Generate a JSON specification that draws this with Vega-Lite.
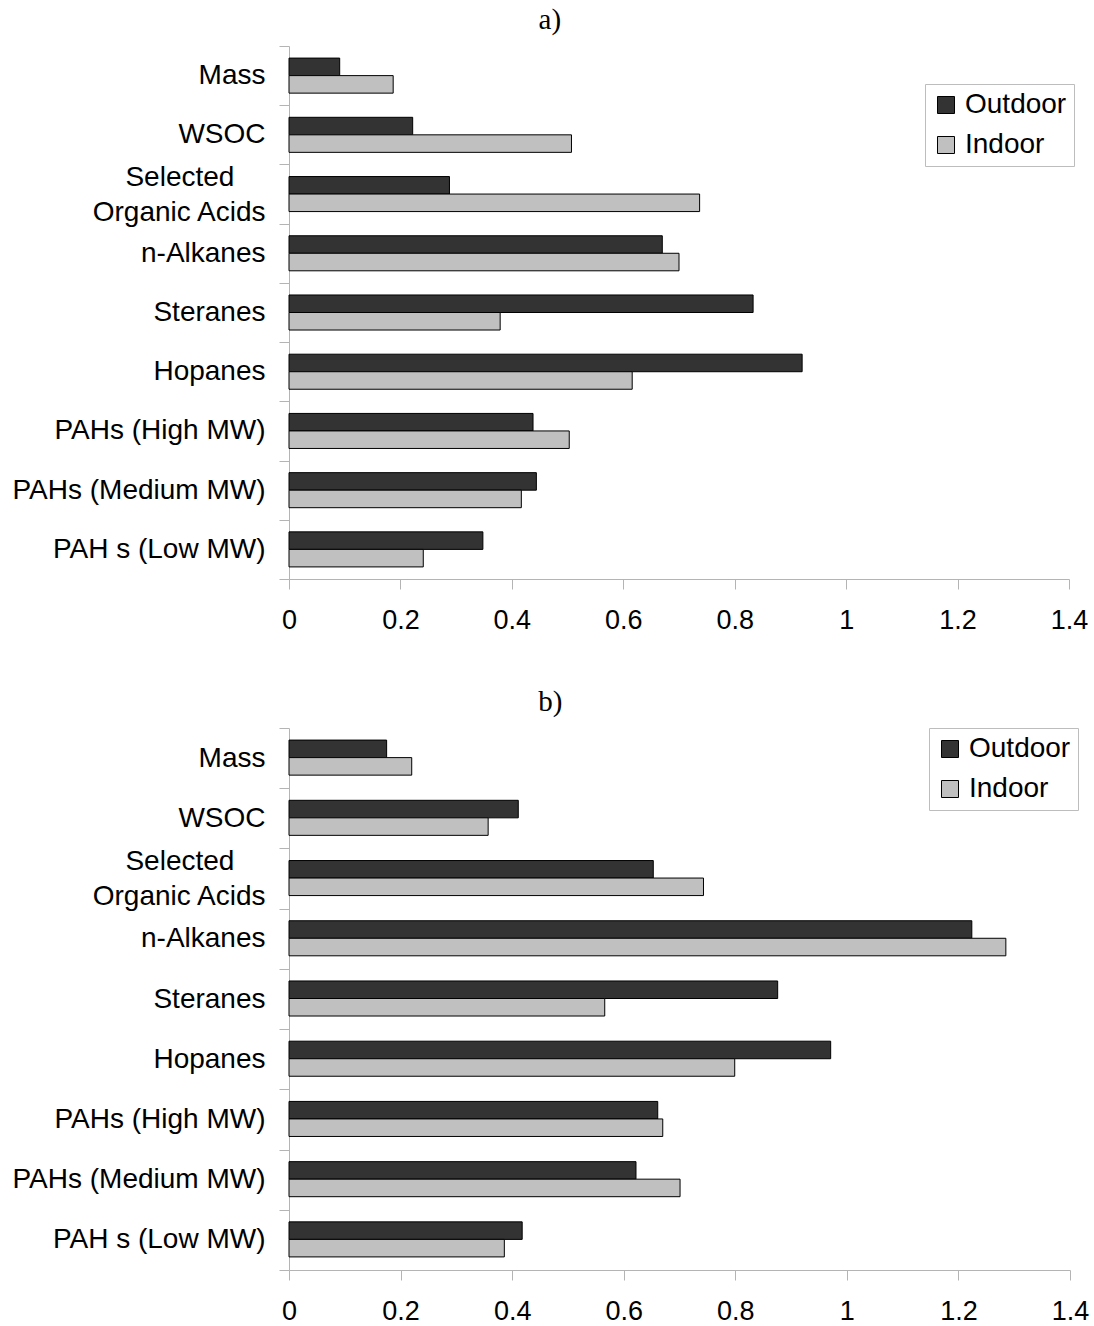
{
  "$schema": "https://vega.github.io/schema/vega-lite/v6.json",
  "background": "white",
  "padding": {"left": 11, "top": 6, "right": 5, "bottom": 5},
  "spacing": 55,
  "config": {
    "view": {"stroke": null},
    "font": "Liberation Sans",
    "axis": {
      "domainColor": "#b4b4b4",
      "tickColor": "#b4b4b4",
      "labelColor": "black",
      "labelFont": "Liberation Sans",
      "labelFontSize": 27,
      "labelLimit": 0,
      "grid": false,
      "tickSize": 10,
      "title": null
    },
    "title": {
      "font": "Liberation Serif",
      "fontSize": 29,
      "fontWeight": "normal",
      "color": "black",
      "anchor": "middle",
      "frame": "bounds",
      "dx": 0,
      "offset": -3
    },
    "legend": {
      "title": null,
      "orient": "none",
      "symbolType": "square",
      "symbolSize": 289,
      "symbolStrokeColor": "black",
      "symbolStrokeWidth": 1,
      "symbolOpacity": 1,
      "labelFont": "Liberation Sans",
      "labelFontSize": 28,
      "labelColor": "black",
      "labelOffset": 5,
      "labelLimit": 0,
      "rowPadding": 12,
      "padding": 7,
      "strokeColor": "#bdbdbd",
      "fillColor": "white"
    }
  },
  "datasets": {
    "panel_a": [
      {"component": "Mass", "site": "Outdoor", "ratio": 0.091},
      {"component": "Mass", "site": "Indoor", "ratio": 0.187},
      {"component": "WSOC", "site": "Outdoor", "ratio": 0.222},
      {"component": "WSOC", "site": "Indoor", "ratio": 0.507},
      {"component": "Selected Organic Acids", "site": "Outdoor", "ratio": 0.288},
      {"component": "Selected Organic Acids", "site": "Indoor", "ratio": 0.737},
      {"component": "n-Alkanes", "site": "Outdoor", "ratio": 0.670},
      {"component": "n-Alkanes", "site": "Indoor", "ratio": 0.700},
      {"component": "Steranes", "site": "Outdoor", "ratio": 0.833},
      {"component": "Steranes", "site": "Indoor", "ratio": 0.379},
      {"component": "Hopanes", "site": "Outdoor", "ratio": 0.921},
      {"component": "Hopanes", "site": "Indoor", "ratio": 0.616},
      {"component": "PAHs (High MW)", "site": "Outdoor", "ratio": 0.438},
      {"component": "PAHs (High MW)", "site": "Indoor", "ratio": 0.503},
      {"component": "PAHs (Medium MW)", "site": "Outdoor", "ratio": 0.444},
      {"component": "PAHs (Medium MW)", "site": "Indoor", "ratio": 0.417},
      {"component": "PAH s (Low MW)", "site": "Outdoor", "ratio": 0.348},
      {"component": "PAH s (Low MW)", "site": "Indoor", "ratio": 0.241}
    ],
    "panel_b": [
      {"component": "Mass", "site": "Outdoor", "ratio": 0.175},
      {"component": "Mass", "site": "Indoor", "ratio": 0.220},
      {"component": "WSOC", "site": "Outdoor", "ratio": 0.411},
      {"component": "WSOC", "site": "Indoor", "ratio": 0.357},
      {"component": "Selected Organic Acids", "site": "Outdoor", "ratio": 0.653},
      {"component": "Selected Organic Acids", "site": "Indoor", "ratio": 0.743},
      {"component": "n-Alkanes", "site": "Outdoor", "ratio": 1.224},
      {"component": "n-Alkanes", "site": "Indoor", "ratio": 1.285},
      {"component": "Steranes", "site": "Outdoor", "ratio": 0.876},
      {"component": "Steranes", "site": "Indoor", "ratio": 0.566},
      {"component": "Hopanes", "site": "Outdoor", "ratio": 0.971},
      {"component": "Hopanes", "site": "Indoor", "ratio": 0.799},
      {"component": "PAHs (High MW)", "site": "Outdoor", "ratio": 0.661},
      {"component": "PAHs (High MW)", "site": "Indoor", "ratio": 0.670},
      {"component": "PAHs (Medium MW)", "site": "Outdoor", "ratio": 0.622},
      {"component": "PAHs (Medium MW)", "site": "Indoor", "ratio": 0.701},
      {"component": "PAH s (Low MW)", "site": "Outdoor", "ratio": 0.418},
      {"component": "PAH s (Low MW)", "site": "Indoor", "ratio": 0.386}
    ]
  },
  "vconcat": [
    {
      "title": {"text": "a)"},
      "width": 780,
      "height": 533,
      "data": {"name": "panel_a"},
      "mark": {"type": "bar", "stroke": "black", "strokeWidth": 1},
      "encoding": {
        "y": {
          "field": "component",
          "type": "nominal",
          "sort": null,
          "scale": {"paddingInner": 0, "paddingOuter": 0},
          "axis": {
            "tickBand": "extent",
            "labelFontSize": 28,
            "labelPadding": 14,
            "labelLineHeight": 35,
            "labelOffset": {"condition": {"test": "datum.value == 'Selected Organic Acids'", "value": -17}, "value": 0},
            "labelExpr": "datum.value == 'Selected Organic Acids' ? ['Selected\u00a0\u00a0\u00a0\u00a0\u200b', 'Organic Acids'] : datum.label"
          }
        },
        "yOffset": {
          "field": "site",
          "type": "nominal",
          "sort": ["Outdoor", "Indoor"],
          "scale": {"paddingInner": 0, "paddingOuter": 0.69}
        },
        "x": {
          "field": "ratio",
          "type": "quantitative",
          "scale": {"domain": [0, 1.4], "nice": false},
          "axis": {"values": [0, 0.2, 0.4, 0.6, 0.8, 1, 1.2, 1.4], "format": "~g", "labelPadding": 18, "labelFlush": false}
        },
        "fill": {
          "field": "site",
          "type": "nominal",
          "sort": ["Outdoor", "Indoor"],
          "scale": {"domain": ["Outdoor", "Indoor"], "range": ["#333333", "#c0c0c0"]},
          "legend": {"legendX": 636, "legendY": 38}
        }
      }
    },
    {
      "title": {"text": "b)"},
      "width": 781,
      "height": 542,
      "data": {"name": "panel_b"},
      "mark": {"type": "bar", "stroke": "black", "strokeWidth": 1},
      "encoding": {
        "y": {
          "field": "component",
          "type": "nominal",
          "sort": null,
          "scale": {"paddingInner": 0, "paddingOuter": 0},
          "axis": {
            "tickBand": "extent",
            "labelFontSize": 28,
            "labelPadding": 14,
            "labelLineHeight": 35,
            "labelOffset": {"condition": {"test": "datum.value == 'Selected Organic Acids'", "value": -17}, "value": 0},
            "labelExpr": "datum.value == 'Selected Organic Acids' ? ['Selected\u00a0\u00a0\u00a0\u00a0\u200b', 'Organic Acids'] : datum.label"
          }
        },
        "yOffset": {
          "field": "site",
          "type": "nominal",
          "sort": ["Outdoor", "Indoor"],
          "scale": {"paddingInner": 0, "paddingOuter": 0.69}
        },
        "x": {
          "field": "ratio",
          "type": "quantitative",
          "scale": {"domain": [0, 1.4], "nice": false},
          "axis": {"values": [0, 0.2, 0.4, 0.6, 0.8, 1, 1.2, 1.4], "format": "~g", "labelPadding": 18, "labelFlush": false}
        },
        "fill": {
          "field": "site",
          "type": "nominal",
          "sort": ["Outdoor", "Indoor"],
          "scale": {"domain": ["Outdoor", "Indoor"], "range": ["#333333", "#c0c0c0"]},
          "legend": {"legendX": 640, "legendY": 0}
        }
      }
    }
  ],
  "resolve": {"scale": {"fill": "independent"}, "legend": {"fill": "independent"}}
}
